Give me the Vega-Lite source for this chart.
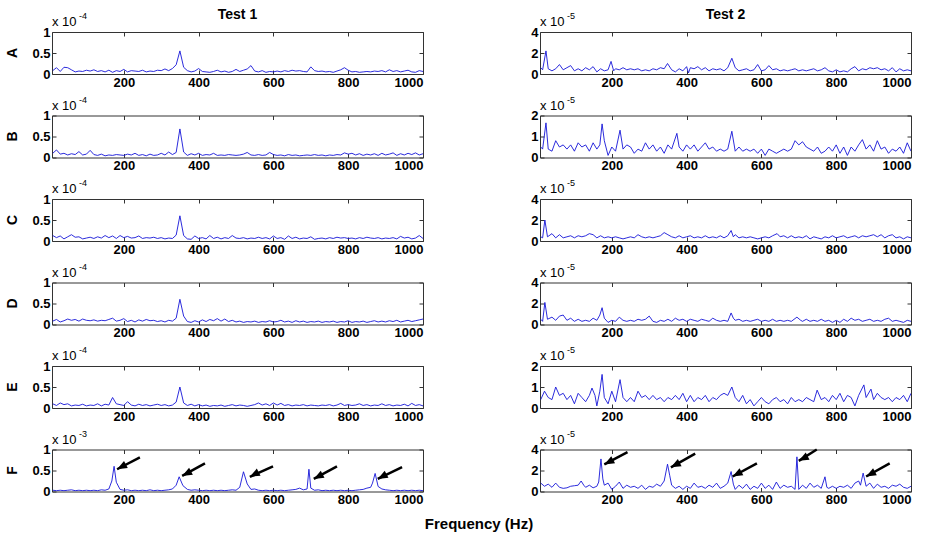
{
"$schema":"https://vega.github.io/schema/vega-lite/v6.json",
"background":"white",
"padding":{"left":6,"top":8,"right":5,"bottom":5},
"data":{"values":[
{"r":"A","c":1,"f":10,"v":0.08},{"r":"A","c":1,"f":20,"v":0.15},{"r":"A","c":1,"f":30,"v":0.06},{"r":"A","c":1,"f":40,"v":0.16},{"r":"A","c":1,"f":50,"v":0.15},{"r":"A","c":1,"f":60,"v":0.1},{"r":"A","c":1,"f":70,"v":0.05},{"r":"A","c":1,"f":80,"v":0.07},{"r":"A","c":1,"f":90,"v":0.06},{"r":"A","c":1,"f":100,"v":0.09},
{"r":"A","c":1,"f":110,"v":0.07},{"r":"A","c":1,"f":120,"v":0.1},{"r":"A","c":1,"f":130,"v":0.06},{"r":"A","c":1,"f":140,"v":0.08},{"r":"A","c":1,"f":150,"v":0.05},{"r":"A","c":1,"f":160,"v":0.09},{"r":"A","c":1,"f":170,"v":0.04},{"r":"A","c":1,"f":180,"v":0.08},{"r":"A","c":1,"f":190,"v":0.06},{"r":"A","c":1,"f":200,"v":0.11},
{"r":"A","c":1,"f":210,"v":0.05},{"r":"A","c":1,"f":220,"v":0.08},{"r":"A","c":1,"f":230,"v":0.07},{"r":"A","c":1,"f":240,"v":0.06},{"r":"A","c":1,"f":250,"v":0.09},{"r":"A","c":1,"f":260,"v":0.05},{"r":"A","c":1,"f":270,"v":0.07},{"r":"A","c":1,"f":280,"v":0.06},{"r":"A","c":1,"f":290,"v":0.09},{"r":"A","c":1,"f":300,"v":0.08},
{"r":"A","c":1,"f":310,"v":0.12},{"r":"A","c":1,"f":320,"v":0.08},{"r":"A","c":1,"f":330,"v":0.13},{"r":"A","c":1,"f":340,"v":0.22},{"r":"A","c":1,"f":350,"v":0.55},{"r":"A","c":1,"f":360,"v":0.16},{"r":"A","c":1,"f":370,"v":0.08},{"r":"A","c":1,"f":380,"v":0.05},{"r":"A","c":1,"f":390,"v":0.07},{"r":"A","c":1,"f":400,"v":0.13},
{"r":"A","c":1,"f":410,"v":0.06},{"r":"A","c":1,"f":420,"v":0.05},{"r":"A","c":1,"f":430,"v":0.04},{"r":"A","c":1,"f":440,"v":0.06},{"r":"A","c":1,"f":450,"v":0.09},{"r":"A","c":1,"f":460,"v":0.05},{"r":"A","c":1,"f":470,"v":0.07},{"r":"A","c":1,"f":480,"v":0.04},{"r":"A","c":1,"f":490,"v":0.06},{"r":"A","c":1,"f":500,"v":0.11},
{"r":"A","c":1,"f":510,"v":0.06},{"r":"A","c":1,"f":520,"v":0.09},{"r":"A","c":1,"f":530,"v":0.12},{"r":"A","c":1,"f":540,"v":0.2},{"r":"A","c":1,"f":550,"v":0.07},{"r":"A","c":1,"f":560,"v":0.05},{"r":"A","c":1,"f":570,"v":0.08},{"r":"A","c":1,"f":580,"v":0.04},{"r":"A","c":1,"f":590,"v":0.06},{"r":"A","c":1,"f":600,"v":0.05},
{"r":"A","c":1,"f":610,"v":0.07},{"r":"A","c":1,"f":620,"v":0.05},{"r":"A","c":1,"f":630,"v":0.08},{"r":"A","c":1,"f":640,"v":0.06},{"r":"A","c":1,"f":650,"v":0.09},{"r":"A","c":1,"f":660,"v":0.07},{"r":"A","c":1,"f":670,"v":0.08},{"r":"A","c":1,"f":680,"v":0.06},{"r":"A","c":1,"f":690,"v":0.05},{"r":"A","c":1,"f":700,"v":0.17},
{"r":"A","c":1,"f":710,"v":0.08},{"r":"A","c":1,"f":720,"v":0.06},{"r":"A","c":1,"f":730,"v":0.07},{"r":"A","c":1,"f":740,"v":0.05},{"r":"A","c":1,"f":750,"v":0.06},{"r":"A","c":1,"f":760,"v":0.04},{"r":"A","c":1,"f":770,"v":0.07},{"r":"A","c":1,"f":780,"v":0.1},{"r":"A","c":1,"f":790,"v":0.15},{"r":"A","c":1,"f":800,"v":0.09},
{"r":"A","c":1,"f":810,"v":0.05},{"r":"A","c":1,"f":820,"v":0.06},{"r":"A","c":1,"f":830,"v":0.04},{"r":"A","c":1,"f":840,"v":0.05},{"r":"A","c":1,"f":850,"v":0.06},{"r":"A","c":1,"f":860,"v":0.05},{"r":"A","c":1,"f":870,"v":0.07},{"r":"A","c":1,"f":880,"v":0.06},{"r":"A","c":1,"f":890,"v":0.08},{"r":"A","c":1,"f":900,"v":0.05},
{"r":"A","c":1,"f":910,"v":0.1},{"r":"A","c":1,"f":920,"v":0.06},{"r":"A","c":1,"f":930,"v":0.08},{"r":"A","c":1,"f":940,"v":0.05},{"r":"A","c":1,"f":950,"v":0.07},{"r":"A","c":1,"f":960,"v":0.09},{"r":"A","c":1,"f":970,"v":0.05},{"r":"A","c":1,"f":980,"v":0.04},{"r":"A","c":1,"f":990,"v":0.08},{"r":"A","c":1,"f":1000,"v":0.06},

{"r":"B","c":1,"f":10,"v":0.1},{"r":"B","c":1,"f":20,"v":0.18},{"r":"B","c":1,"f":30,"v":0.08},{"r":"B","c":1,"f":40,"v":0.1},{"r":"B","c":1,"f":50,"v":0.06},{"r":"B","c":1,"f":60,"v":0.09},{"r":"B","c":1,"f":70,"v":0.07},{"r":"B","c":1,"f":80,"v":0.14},{"r":"B","c":1,"f":90,"v":0.06},{"r":"B","c":1,"f":100,"v":0.08},
{"r":"B","c":1,"f":110,"v":0.17},{"r":"B","c":1,"f":120,"v":0.07},{"r":"B","c":1,"f":130,"v":0.05},{"r":"B","c":1,"f":140,"v":0.08},{"r":"B","c":1,"f":150,"v":0.04},{"r":"B","c":1,"f":160,"v":0.06},{"r":"B","c":1,"f":170,"v":0.05},{"r":"B","c":1,"f":180,"v":0.07},{"r":"B","c":1,"f":190,"v":0.06},{"r":"B","c":1,"f":200,"v":0.05},
{"r":"B","c":1,"f":210,"v":0.08},{"r":"B","c":1,"f":220,"v":0.06},{"r":"B","c":1,"f":230,"v":0.1},{"r":"B","c":1,"f":240,"v":0.05},{"r":"B","c":1,"f":250,"v":0.07},{"r":"B","c":1,"f":260,"v":0.04},{"r":"B","c":1,"f":270,"v":0.08},{"r":"B","c":1,"f":280,"v":0.05},{"r":"B","c":1,"f":290,"v":0.06},{"r":"B","c":1,"f":300,"v":0.1},
{"r":"B","c":1,"f":310,"v":0.06},{"r":"B","c":1,"f":320,"v":0.13},{"r":"B","c":1,"f":330,"v":0.07},{"r":"B","c":1,"f":340,"v":0.12},{"r":"B","c":1,"f":350,"v":0.68},{"r":"B","c":1,"f":360,"v":0.13},{"r":"B","c":1,"f":370,"v":0.05},{"r":"B","c":1,"f":380,"v":0.09},{"r":"B","c":1,"f":390,"v":0.06},{"r":"B","c":1,"f":400,"v":0.1},
{"r":"B","c":1,"f":410,"v":0.05},{"r":"B","c":1,"f":420,"v":0.07},{"r":"B","c":1,"f":430,"v":0.06},{"r":"B","c":1,"f":440,"v":0.1},{"r":"B","c":1,"f":450,"v":0.05},{"r":"B","c":1,"f":460,"v":0.06},{"r":"B","c":1,"f":470,"v":0.05},{"r":"B","c":1,"f":480,"v":0.07},{"r":"B","c":1,"f":490,"v":0.06},{"r":"B","c":1,"f":500,"v":0.05},
{"r":"B","c":1,"f":510,"v":0.06},{"r":"B","c":1,"f":520,"v":0.08},{"r":"B","c":1,"f":530,"v":0.12},{"r":"B","c":1,"f":540,"v":0.06},{"r":"B","c":1,"f":550,"v":0.05},{"r":"B","c":1,"f":560,"v":0.07},{"r":"B","c":1,"f":570,"v":0.05},{"r":"B","c":1,"f":580,"v":0.06},{"r":"B","c":1,"f":590,"v":0.12},{"r":"B","c":1,"f":600,"v":0.07},
{"r":"B","c":1,"f":610,"v":0.05},{"r":"B","c":1,"f":620,"v":0.06},{"r":"B","c":1,"f":630,"v":0.04},{"r":"B","c":1,"f":640,"v":0.07},{"r":"B","c":1,"f":650,"v":0.05},{"r":"B","c":1,"f":660,"v":0.06},{"r":"B","c":1,"f":670,"v":0.04},{"r":"B","c":1,"f":680,"v":0.05},{"r":"B","c":1,"f":690,"v":0.06},{"r":"B","c":1,"f":700,"v":0.05},
{"r":"B","c":1,"f":710,"v":0.07},{"r":"B","c":1,"f":720,"v":0.05},{"r":"B","c":1,"f":730,"v":0.06},{"r":"B","c":1,"f":740,"v":0.04},{"r":"B","c":1,"f":750,"v":0.06},{"r":"B","c":1,"f":760,"v":0.05},{"r":"B","c":1,"f":770,"v":0.07},{"r":"B","c":1,"f":780,"v":0.06},{"r":"B","c":1,"f":790,"v":0.11},{"r":"B","c":1,"f":800,"v":0.08},
{"r":"B","c":1,"f":810,"v":0.1},{"r":"B","c":1,"f":820,"v":0.06},{"r":"B","c":1,"f":830,"v":0.09},{"r":"B","c":1,"f":840,"v":0.05},{"r":"B","c":1,"f":850,"v":0.08},{"r":"B","c":1,"f":860,"v":0.06},{"r":"B","c":1,"f":870,"v":0.09},{"r":"B","c":1,"f":880,"v":0.05},{"r":"B","c":1,"f":890,"v":0.1},{"r":"B","c":1,"f":900,"v":0.06},
{"r":"B","c":1,"f":910,"v":0.08},{"r":"B","c":1,"f":920,"v":0.11},{"r":"B","c":1,"f":930,"v":0.05},{"r":"B","c":1,"f":940,"v":0.09},{"r":"B","c":1,"f":950,"v":0.06},{"r":"B","c":1,"f":960,"v":0.1},{"r":"B","c":1,"f":970,"v":0.07},{"r":"B","c":1,"f":980,"v":0.11},{"r":"B","c":1,"f":990,"v":0.06},{"r":"B","c":1,"f":1000,"v":0.09},

{"r":"C","c":1,"f":10,"v":0.13},{"r":"C","c":1,"f":20,"v":0.08},{"r":"C","c":1,"f":30,"v":0.12},{"r":"C","c":1,"f":40,"v":0.05},{"r":"C","c":1,"f":50,"v":0.1},{"r":"C","c":1,"f":60,"v":0.15},{"r":"C","c":1,"f":70,"v":0.09},{"r":"C","c":1,"f":80,"v":0.1},{"r":"C","c":1,"f":90,"v":0.05},{"r":"C","c":1,"f":100,"v":0.07},
{"r":"C","c":1,"f":110,"v":0.09},{"r":"C","c":1,"f":120,"v":0.06},{"r":"C","c":1,"f":130,"v":0.1},{"r":"C","c":1,"f":140,"v":0.07},{"r":"C","c":1,"f":150,"v":0.13},{"r":"C","c":1,"f":160,"v":0.08},{"r":"C","c":1,"f":170,"v":0.12},{"r":"C","c":1,"f":180,"v":0.06},{"r":"C","c":1,"f":190,"v":0.13},{"r":"C","c":1,"f":200,"v":0.08},
{"r":"C","c":1,"f":210,"v":0.11},{"r":"C","c":1,"f":220,"v":0.07},{"r":"C","c":1,"f":230,"v":0.08},{"r":"C","c":1,"f":240,"v":0.12},{"r":"C","c":1,"f":250,"v":0.06},{"r":"C","c":1,"f":260,"v":0.08},{"r":"C","c":1,"f":270,"v":0.07},{"r":"C","c":1,"f":280,"v":0.09},{"r":"C","c":1,"f":290,"v":0.06},{"r":"C","c":1,"f":300,"v":0.08},
{"r":"C","c":1,"f":310,"v":0.05},{"r":"C","c":1,"f":320,"v":0.07},{"r":"C","c":1,"f":330,"v":0.06},{"r":"C","c":1,"f":340,"v":0.14},{"r":"C","c":1,"f":350,"v":0.6},{"r":"C","c":1,"f":360,"v":0.13},{"r":"C","c":1,"f":370,"v":0.05},{"r":"C","c":1,"f":380,"v":0.04},{"r":"C","c":1,"f":390,"v":0.12},{"r":"C","c":1,"f":400,"v":0.06},
{"r":"C","c":1,"f":410,"v":0.08},{"r":"C","c":1,"f":420,"v":0.05},{"r":"C","c":1,"f":430,"v":0.13},{"r":"C","c":1,"f":440,"v":0.06},{"r":"C","c":1,"f":450,"v":0.09},{"r":"C","c":1,"f":460,"v":0.05},{"r":"C","c":1,"f":470,"v":0.08},{"r":"C","c":1,"f":480,"v":0.06},{"r":"C","c":1,"f":490,"v":0.13},{"r":"C","c":1,"f":500,"v":0.07},
{"r":"C","c":1,"f":510,"v":0.06},{"r":"C","c":1,"f":520,"v":0.08},{"r":"C","c":1,"f":530,"v":0.05},{"r":"C","c":1,"f":540,"v":0.07},{"r":"C","c":1,"f":550,"v":0.06},{"r":"C","c":1,"f":560,"v":0.09},{"r":"C","c":1,"f":570,"v":0.06},{"r":"C","c":1,"f":580,"v":0.08},{"r":"C","c":1,"f":590,"v":0.05},{"r":"C","c":1,"f":600,"v":0.12},
{"r":"C","c":1,"f":610,"v":0.06},{"r":"C","c":1,"f":620,"v":0.08},{"r":"C","c":1,"f":630,"v":0.04},{"r":"C","c":1,"f":640,"v":0.12},{"r":"C","c":1,"f":650,"v":0.06},{"r":"C","c":1,"f":660,"v":0.09},{"r":"C","c":1,"f":670,"v":0.05},{"r":"C","c":1,"f":680,"v":0.07},{"r":"C","c":1,"f":690,"v":0.06},{"r":"C","c":1,"f":700,"v":0.1},
{"r":"C","c":1,"f":710,"v":0.04},{"r":"C","c":1,"f":720,"v":0.06},{"r":"C","c":1,"f":730,"v":0.07},{"r":"C","c":1,"f":740,"v":0.05},{"r":"C","c":1,"f":750,"v":0.08},{"r":"C","c":1,"f":760,"v":0.06},{"r":"C","c":1,"f":770,"v":0.09},{"r":"C","c":1,"f":780,"v":0.07},{"r":"C","c":1,"f":790,"v":0.08},{"r":"C","c":1,"f":800,"v":0.06},
{"r":"C","c":1,"f":810,"v":0.07},{"r":"C","c":1,"f":820,"v":0.05},{"r":"C","c":1,"f":830,"v":0.08},{"r":"C","c":1,"f":840,"v":0.06},{"r":"C","c":1,"f":850,"v":0.09},{"r":"C","c":1,"f":860,"v":0.07},{"r":"C","c":1,"f":870,"v":0.06},{"r":"C","c":1,"f":880,"v":0.08},{"r":"C","c":1,"f":890,"v":0.05},{"r":"C","c":1,"f":900,"v":0.07},
{"r":"C","c":1,"f":910,"v":0.06},{"r":"C","c":1,"f":920,"v":0.08},{"r":"C","c":1,"f":930,"v":0.05},{"r":"C","c":1,"f":940,"v":0.11},{"r":"C","c":1,"f":950,"v":0.07},{"r":"C","c":1,"f":960,"v":0.09},{"r":"C","c":1,"f":970,"v":0.05},{"r":"C","c":1,"f":980,"v":0.07},{"r":"C","c":1,"f":990,"v":0.13},{"r":"C","c":1,"f":1000,"v":0.06},

{"r":"D","c":1,"f":10,"v":0.08},{"r":"D","c":1,"f":20,"v":0.12},{"r":"D","c":1,"f":30,"v":0.06},{"r":"D","c":1,"f":40,"v":0.09},{"r":"D","c":1,"f":50,"v":0.13},{"r":"D","c":1,"f":60,"v":0.1},{"r":"D","c":1,"f":70,"v":0.12},{"r":"D","c":1,"f":80,"v":0.08},{"r":"D","c":1,"f":90,"v":0.13},{"r":"D","c":1,"f":100,"v":0.1},
{"r":"D","c":1,"f":110,"v":0.09},{"r":"D","c":1,"f":120,"v":0.11},{"r":"D","c":1,"f":130,"v":0.08},{"r":"D","c":1,"f":140,"v":0.1},{"r":"D","c":1,"f":150,"v":0.09},{"r":"D","c":1,"f":160,"v":0.12},{"r":"D","c":1,"f":170,"v":0.15},{"r":"D","c":1,"f":180,"v":0.08},{"r":"D","c":1,"f":190,"v":0.1},{"r":"D","c":1,"f":200,"v":0.14},
{"r":"D","c":1,"f":210,"v":0.07},{"r":"D","c":1,"f":220,"v":0.1},{"r":"D","c":1,"f":230,"v":0.06},{"r":"D","c":1,"f":240,"v":0.11},{"r":"D","c":1,"f":250,"v":0.08},{"r":"D","c":1,"f":260,"v":0.12},{"r":"D","c":1,"f":270,"v":0.09},{"r":"D","c":1,"f":280,"v":0.1},{"r":"D","c":1,"f":290,"v":0.07},{"r":"D","c":1,"f":300,"v":0.09},
{"r":"D","c":1,"f":310,"v":0.06},{"r":"D","c":1,"f":320,"v":0.1},{"r":"D","c":1,"f":330,"v":0.08},{"r":"D","c":1,"f":340,"v":0.15},{"r":"D","c":1,"f":350,"v":0.6},{"r":"D","c":1,"f":360,"v":0.2},{"r":"D","c":1,"f":370,"v":0.07},{"r":"D","c":1,"f":380,"v":0.05},{"r":"D","c":1,"f":390,"v":0.09},{"r":"D","c":1,"f":400,"v":0.06},
{"r":"D","c":1,"f":410,"v":0.11},{"r":"D","c":1,"f":420,"v":0.07},{"r":"D","c":1,"f":430,"v":0.12},{"r":"D","c":1,"f":440,"v":0.09},{"r":"D","c":1,"f":450,"v":0.14},{"r":"D","c":1,"f":460,"v":0.08},{"r":"D","c":1,"f":470,"v":0.13},{"r":"D","c":1,"f":480,"v":0.07},{"r":"D","c":1,"f":490,"v":0.1},{"r":"D","c":1,"f":500,"v":0.06},
{"r":"D","c":1,"f":510,"v":0.08},{"r":"D","c":1,"f":520,"v":0.05},{"r":"D","c":1,"f":530,"v":0.07},{"r":"D","c":1,"f":540,"v":0.06},{"r":"D","c":1,"f":550,"v":0.08},{"r":"D","c":1,"f":560,"v":0.05},{"r":"D","c":1,"f":570,"v":0.07},{"r":"D","c":1,"f":580,"v":0.06},{"r":"D","c":1,"f":590,"v":0.09},{"r":"D","c":1,"f":600,"v":0.06},
{"r":"D","c":1,"f":610,"v":0.07},{"r":"D","c":1,"f":620,"v":0.1},{"r":"D","c":1,"f":630,"v":0.06},{"r":"D","c":1,"f":640,"v":0.08},{"r":"D","c":1,"f":650,"v":0.05},{"r":"D","c":1,"f":660,"v":0.09},{"r":"D","c":1,"f":670,"v":0.06},{"r":"D","c":1,"f":680,"v":0.08},{"r":"D","c":1,"f":690,"v":0.05},{"r":"D","c":1,"f":700,"v":0.07},
{"r":"D","c":1,"f":710,"v":0.06},{"r":"D","c":1,"f":720,"v":0.08},{"r":"D","c":1,"f":730,"v":0.05},{"r":"D","c":1,"f":740,"v":0.07},{"r":"D","c":1,"f":750,"v":0.06},{"r":"D","c":1,"f":760,"v":0.08},{"r":"D","c":1,"f":770,"v":0.05},{"r":"D","c":1,"f":780,"v":0.07},{"r":"D","c":1,"f":790,"v":0.06},{"r":"D","c":1,"f":800,"v":0.09},
{"r":"D","c":1,"f":810,"v":0.05},{"r":"D","c":1,"f":820,"v":0.07},{"r":"D","c":1,"f":830,"v":0.06},{"r":"D","c":1,"f":840,"v":0.08},{"r":"D","c":1,"f":850,"v":0.05},{"r":"D","c":1,"f":860,"v":0.07},{"r":"D","c":1,"f":870,"v":0.09},{"r":"D","c":1,"f":880,"v":0.06},{"r":"D","c":1,"f":890,"v":0.08},{"r":"D","c":1,"f":900,"v":0.06},
{"r":"D","c":1,"f":910,"v":0.09},{"r":"D","c":1,"f":920,"v":0.07},{"r":"D","c":1,"f":930,"v":0.1},{"r":"D","c":1,"f":940,"v":0.06},{"r":"D","c":1,"f":950,"v":0.08},{"r":"D","c":1,"f":960,"v":0.1},{"r":"D","c":1,"f":970,"v":0.07},{"r":"D","c":1,"f":980,"v":0.09},{"r":"D","c":1,"f":990,"v":0.11},{"r":"D","c":1,"f":1000,"v":0.13},

{"r":"E","c":1,"f":10,"v":0.1},{"r":"E","c":1,"f":20,"v":0.06},{"r":"E","c":1,"f":30,"v":0.12},{"r":"E","c":1,"f":40,"v":0.08},{"r":"E","c":1,"f":50,"v":0.1},{"r":"E","c":1,"f":60,"v":0.05},{"r":"E","c":1,"f":70,"v":0.07},{"r":"E","c":1,"f":80,"v":0.06},{"r":"E","c":1,"f":90,"v":0.09},{"r":"E","c":1,"f":100,"v":0.05},
{"r":"E","c":1,"f":110,"v":0.07},{"r":"E","c":1,"f":120,"v":0.06},{"r":"E","c":1,"f":130,"v":0.1},{"r":"E","c":1,"f":140,"v":0.05},{"r":"E","c":1,"f":150,"v":0.09},{"r":"E","c":1,"f":160,"v":0.07},{"r":"E","c":1,"f":170,"v":0.25},{"r":"E","c":1,"f":180,"v":0.1},{"r":"E","c":1,"f":190,"v":0.08},{"r":"E","c":1,"f":200,"v":0.06},
{"r":"E","c":1,"f":210,"v":0.15},{"r":"E","c":1,"f":220,"v":0.07},{"r":"E","c":1,"f":230,"v":0.05},{"r":"E","c":1,"f":240,"v":0.09},{"r":"E","c":1,"f":250,"v":0.06},{"r":"E","c":1,"f":260,"v":0.08},{"r":"E","c":1,"f":270,"v":0.05},{"r":"E","c":1,"f":280,"v":0.07},{"r":"E","c":1,"f":290,"v":0.09},{"r":"E","c":1,"f":300,"v":0.06},
{"r":"E","c":1,"f":310,"v":0.08},{"r":"E","c":1,"f":320,"v":0.05},{"r":"E","c":1,"f":330,"v":0.07},{"r":"E","c":1,"f":340,"v":0.14},{"r":"E","c":1,"f":350,"v":0.5},{"r":"E","c":1,"f":360,"v":0.12},{"r":"E","c":1,"f":370,"v":0.06},{"r":"E","c":1,"f":380,"v":0.09},{"r":"E","c":1,"f":390,"v":0.05},{"r":"E","c":1,"f":400,"v":0.08},
{"r":"E","c":1,"f":410,"v":0.05},{"r":"E","c":1,"f":420,"v":0.07},{"r":"E","c":1,"f":430,"v":0.04},{"r":"E","c":1,"f":440,"v":0.06},{"r":"E","c":1,"f":450,"v":0.05},{"r":"E","c":1,"f":460,"v":0.07},{"r":"E","c":1,"f":470,"v":0.04},{"r":"E","c":1,"f":480,"v":0.06},{"r":"E","c":1,"f":490,"v":0.08},{"r":"E","c":1,"f":500,"v":0.05},
{"r":"E","c":1,"f":510,"v":0.07},{"r":"E","c":1,"f":520,"v":0.06},{"r":"E","c":1,"f":530,"v":0.04},{"r":"E","c":1,"f":540,"v":0.06},{"r":"E","c":1,"f":550,"v":0.08},{"r":"E","c":1,"f":560,"v":0.12},{"r":"E","c":1,"f":570,"v":0.07},{"r":"E","c":1,"f":580,"v":0.1},{"r":"E","c":1,"f":590,"v":0.06},{"r":"E","c":1,"f":600,"v":0.12},
{"r":"E","c":1,"f":610,"v":0.07},{"r":"E","c":1,"f":620,"v":0.11},{"r":"E","c":1,"f":630,"v":0.06},{"r":"E","c":1,"f":640,"v":0.08},{"r":"E","c":1,"f":650,"v":0.05},{"r":"E","c":1,"f":660,"v":0.07},{"r":"E","c":1,"f":670,"v":0.06},{"r":"E","c":1,"f":680,"v":0.08},{"r":"E","c":1,"f":690,"v":0.05},{"r":"E","c":1,"f":700,"v":0.07},
{"r":"E","c":1,"f":710,"v":0.06},{"r":"E","c":1,"f":720,"v":0.05},{"r":"E","c":1,"f":730,"v":0.07},{"r":"E","c":1,"f":740,"v":0.06},{"r":"E","c":1,"f":750,"v":0.08},{"r":"E","c":1,"f":760,"v":0.05},{"r":"E","c":1,"f":770,"v":0.07},{"r":"E","c":1,"f":780,"v":0.11},{"r":"E","c":1,"f":790,"v":0.06},{"r":"E","c":1,"f":800,"v":0.08},
{"r":"E","c":1,"f":810,"v":0.06},{"r":"E","c":1,"f":820,"v":0.07},{"r":"E","c":1,"f":830,"v":0.1},{"r":"E","c":1,"f":840,"v":0.06},{"r":"E","c":1,"f":850,"v":0.08},{"r":"E","c":1,"f":860,"v":0.05},{"r":"E","c":1,"f":870,"v":0.07},{"r":"E","c":1,"f":880,"v":0.06},{"r":"E","c":1,"f":890,"v":0.1},{"r":"E","c":1,"f":900,"v":0.06},
{"r":"E","c":1,"f":910,"v":0.08},{"r":"E","c":1,"f":920,"v":0.05},{"r":"E","c":1,"f":930,"v":0.07},{"r":"E","c":1,"f":940,"v":0.06},{"r":"E","c":1,"f":950,"v":0.09},{"r":"E","c":1,"f":960,"v":0.05},{"r":"E","c":1,"f":970,"v":0.11},{"r":"E","c":1,"f":980,"v":0.06},{"r":"E","c":1,"f":990,"v":0.08},{"r":"E","c":1,"f":1000,"v":0.05},

{"r":"F","c":1,"f":10,"v":0.03},{"r":"F","c":1,"f":20,"v":0.02},{"r":"F","c":1,"f":30,"v":0.03},{"r":"F","c":1,"f":40,"v":0.02},{"r":"F","c":1,"f":50,"v":0.03},{"r":"F","c":1,"f":60,"v":0.04},{"r":"F","c":1,"f":70,"v":0.02},{"r":"F","c":1,"f":80,"v":0.03},{"r":"F","c":1,"f":90,"v":0.02},{"r":"F","c":1,"f":100,"v":0.03},
{"r":"F","c":1,"f":110,"v":0.02},{"r":"F","c":1,"f":120,"v":0.03},{"r":"F","c":1,"f":130,"v":0.02},{"r":"F","c":1,"f":140,"v":0.04},{"r":"F","c":1,"f":150,"v":0.03},{"r":"F","c":1,"f":160,"v":0.06},{"r":"F","c":1,"f":168,"v":0.25},{"r":"F","c":1,"f":174,"v":0.6},{"r":"F","c":1,"f":180,"v":0.22},{"r":"F","c":1,"f":190,"v":0.05},
{"r":"F","c":1,"f":200,"v":0.03},{"r":"F","c":1,"f":210,"v":0.04},{"r":"F","c":1,"f":220,"v":0.02},{"r":"F","c":1,"f":230,"v":0.03},{"r":"F","c":1,"f":240,"v":0.02},{"r":"F","c":1,"f":250,"v":0.03},{"r":"F","c":1,"f":260,"v":0.02},{"r":"F","c":1,"f":270,"v":0.04},{"r":"F","c":1,"f":280,"v":0.02},{"r":"F","c":1,"f":290,"v":0.03},
{"r":"F","c":1,"f":300,"v":0.02},{"r":"F","c":1,"f":310,"v":0.03},{"r":"F","c":1,"f":320,"v":0.04},{"r":"F","c":1,"f":330,"v":0.06},{"r":"F","c":1,"f":340,"v":0.15},{"r":"F","c":1,"f":348,"v":0.35},{"r":"F","c":1,"f":358,"v":0.14},{"r":"F","c":1,"f":370,"v":0.05},{"r":"F","c":1,"f":380,"v":0.03},{"r":"F","c":1,"f":390,"v":0.04},
{"r":"F","c":1,"f":400,"v":0.03},{"r":"F","c":1,"f":410,"v":0.02},{"r":"F","c":1,"f":420,"v":0.03},{"r":"F","c":1,"f":430,"v":0.02},{"r":"F","c":1,"f":440,"v":0.03},{"r":"F","c":1,"f":450,"v":0.02},{"r":"F","c":1,"f":460,"v":0.03},{"r":"F","c":1,"f":470,"v":0.02},{"r":"F","c":1,"f":480,"v":0.03},{"r":"F","c":1,"f":490,"v":0.04},
{"r":"F","c":1,"f":500,"v":0.03},{"r":"F","c":1,"f":510,"v":0.1},{"r":"F","c":1,"f":520,"v":0.47},{"r":"F","c":1,"f":530,"v":0.18},{"r":"F","c":1,"f":540,"v":0.05},{"r":"F","c":1,"f":550,"v":0.06},{"r":"F","c":1,"f":560,"v":0.03},{"r":"F","c":1,"f":570,"v":0.02},{"r":"F","c":1,"f":580,"v":0.03},{"r":"F","c":1,"f":590,"v":0.02},
{"r":"F","c":1,"f":600,"v":0.03},{"r":"F","c":1,"f":610,"v":0.02},{"r":"F","c":1,"f":620,"v":0.03},{"r":"F","c":1,"f":630,"v":0.02},{"r":"F","c":1,"f":640,"v":0.03},{"r":"F","c":1,"f":650,"v":0.04},{"r":"F","c":1,"f":660,"v":0.05},{"r":"F","c":1,"f":670,"v":0.08},{"r":"F","c":1,"f":680,"v":0.04},{"r":"F","c":1,"f":690,"v":0.06},
{"r":"F","c":1,"f":695,"v":0.53},{"r":"F","c":1,"f":700,"v":0.08},{"r":"F","c":1,"f":710,"v":0.03},{"r":"F","c":1,"f":720,"v":0.04},{"r":"F","c":1,"f":730,"v":0.02},{"r":"F","c":1,"f":740,"v":0.03},{"r":"F","c":1,"f":750,"v":0.02},{"r":"F","c":1,"f":760,"v":0.03},{"r":"F","c":1,"f":770,"v":0.02},{"r":"F","c":1,"f":780,"v":0.03},
{"r":"F","c":1,"f":790,"v":0.02},{"r":"F","c":1,"f":800,"v":0.03},{"r":"F","c":1,"f":810,"v":0.02},{"r":"F","c":1,"f":820,"v":0.03},{"r":"F","c":1,"f":830,"v":0.04},{"r":"F","c":1,"f":840,"v":0.05},{"r":"F","c":1,"f":850,"v":0.08},{"r":"F","c":1,"f":860,"v":0.1},{"r":"F","c":1,"f":865,"v":0.2},{"r":"F","c":1,"f":872,"v":0.43},{"r":"F","c":1,"f":880,"v":0.12},{"r":"F","c":1,"f":890,"v":0.06},
{"r":"F","c":1,"f":900,"v":0.04},{"r":"F","c":1,"f":910,"v":0.03},{"r":"F","c":1,"f":920,"v":0.02},{"r":"F","c":1,"f":930,"v":0.03},{"r":"F","c":1,"f":940,"v":0.02},{"r":"F","c":1,"f":950,"v":0.03},{"r":"F","c":1,"f":960,"v":0.02},{"r":"F","c":1,"f":970,"v":0.03},{"r":"F","c":1,"f":980,"v":0.02},{"r":"F","c":1,"f":990,"v":0.03},{"r":"F","c":1,"f":1000,"v":0.02},

{"r":"A","c":2,"f":10,"v":0.6},{"r":"A","c":2,"f":15,"v":0.4},{"r":"A","c":2,"f":24,"v":2.2},{"r":"A","c":2,"f":30,"v":0.5},{"r":"A","c":2,"f":40,"v":0.3},{"r":"A","c":2,"f":50,"v":0.5},{"r":"A","c":2,"f":60,"v":0.9},{"r":"A","c":2,"f":70,"v":0.4},{"r":"A","c":2,"f":80,"v":0.6},{"r":"A","c":2,"f":90,"v":0.8},{"r":"A","c":2,"f":100,"v":0.3},
{"r":"A","c":2,"f":110,"v":0.5},{"r":"A","c":2,"f":120,"v":0.3},{"r":"A","c":2,"f":130,"v":0.6},{"r":"A","c":2,"f":140,"v":0.4},{"r":"A","c":2,"f":150,"v":0.7},{"r":"A","c":2,"f":160,"v":0.2},{"r":"A","c":2,"f":170,"v":0.5},{"r":"A","c":2,"f":180,"v":0.3},{"r":"A","c":2,"f":190,"v":0.4},{"r":"A","c":2,"f":198,"v":1.2},{"r":"A","c":2,"f":205,"v":0.3},
{"r":"A","c":2,"f":210,"v":0.5},{"r":"A","c":2,"f":220,"v":0.4},{"r":"A","c":2,"f":230,"v":0.6},{"r":"A","c":2,"f":240,"v":0.4},{"r":"A","c":2,"f":250,"v":0.5},{"r":"A","c":2,"f":260,"v":0.4},{"r":"A","c":2,"f":270,"v":0.5},{"r":"A","c":2,"f":280,"v":0.3},{"r":"A","c":2,"f":290,"v":0.4},{"r":"A","c":2,"f":300,"v":0.3},
{"r":"A","c":2,"f":310,"v":0.5},{"r":"A","c":2,"f":320,"v":0.4},{"r":"A","c":2,"f":330,"v":0.6},{"r":"A","c":2,"f":340,"v":0.5},{"r":"A","c":2,"f":349,"v":1.0},{"r":"A","c":2,"f":360,"v":0.4},{"r":"A","c":2,"f":370,"v":0.2},{"r":"A","c":2,"f":380,"v":0.5},{"r":"A","c":2,"f":390,"v":0.3},{"r":"A","c":2,"f":400,"v":0.7},
{"r":"A","c":2,"f":405,"v":0.1},{"r":"A","c":2,"f":410,"v":0.6},{"r":"A","c":2,"f":420,"v":0.5},{"r":"A","c":2,"f":430,"v":0.7},{"r":"A","c":2,"f":440,"v":0.4},{"r":"A","c":2,"f":450,"v":0.6},{"r":"A","c":2,"f":460,"v":0.3},{"r":"A","c":2,"f":470,"v":0.5},{"r":"A","c":2,"f":480,"v":0.4},{"r":"A","c":2,"f":490,"v":0.5},{"r":"A","c":2,"f":500,"v":0.3},
{"r":"A","c":2,"f":510,"v":0.6},{"r":"A","c":2,"f":521,"v":1.5},{"r":"A","c":2,"f":530,"v":0.6},{"r":"A","c":2,"f":540,"v":0.3},{"r":"A","c":2,"f":550,"v":0.4},{"r":"A","c":2,"f":560,"v":0.5},{"r":"A","c":2,"f":570,"v":0.3},{"r":"A","c":2,"f":580,"v":0.4},{"r":"A","c":2,"f":590,"v":0.9},{"r":"A","c":2,"f":600,"v":0.3},
{"r":"A","c":2,"f":610,"v":0.4},{"r":"A","c":2,"f":620,"v":0.8},{"r":"A","c":2,"f":630,"v":0.4},{"r":"A","c":2,"f":640,"v":0.5},{"r":"A","c":2,"f":650,"v":0.3},{"r":"A","c":2,"f":660,"v":0.4},{"r":"A","c":2,"f":670,"v":0.3},{"r":"A","c":2,"f":680,"v":0.4},{"r":"A","c":2,"f":690,"v":0.5},{"r":"A","c":2,"f":700,"v":0.3},
{"r":"A","c":2,"f":710,"v":0.4},{"r":"A","c":2,"f":720,"v":0.3},{"r":"A","c":2,"f":730,"v":0.4},{"r":"A","c":2,"f":740,"v":0.5},{"r":"A","c":2,"f":750,"v":0.3},{"r":"A","c":2,"f":760,"v":0.4},{"r":"A","c":2,"f":770,"v":0.6},{"r":"A","c":2,"f":780,"v":0.3},{"r":"A","c":2,"f":790,"v":0.2},{"r":"A","c":2,"f":800,"v":0.4},
{"r":"A","c":2,"f":810,"v":0.2},{"r":"A","c":2,"f":820,"v":0.3},{"r":"A","c":2,"f":830,"v":0.2},{"r":"A","c":2,"f":840,"v":0.5},{"r":"A","c":2,"f":850,"v":0.7},{"r":"A","c":2,"f":860,"v":0.3},{"r":"A","c":2,"f":870,"v":0.5},{"r":"A","c":2,"f":880,"v":0.4},{"r":"A","c":2,"f":890,"v":0.6},{"r":"A","c":2,"f":900,"v":0.5},
{"r":"A","c":2,"f":910,"v":0.6},{"r":"A","c":2,"f":920,"v":0.4},{"r":"A","c":2,"f":930,"v":0.5},{"r":"A","c":2,"f":940,"v":0.3},{"r":"A","c":2,"f":950,"v":0.6},{"r":"A","c":2,"f":960,"v":0.2},{"r":"A","c":2,"f":970,"v":0.5},{"r":"A","c":2,"f":980,"v":0.3},{"r":"A","c":2,"f":990,"v":0.4},{"r":"A","c":2,"f":1000,"v":0.3},

{"r":"B","c":2,"f":10,"v":0.5},{"r":"B","c":2,"f":15,"v":0.4},{"r":"B","c":2,"f":24,"v":1.65},{"r":"B","c":2,"f":30,"v":0.4},{"r":"B","c":2,"f":40,"v":0.3},{"r":"B","c":2,"f":50,"v":0.8},{"r":"B","c":2,"f":60,"v":0.5},{"r":"B","c":2,"f":70,"v":0.6},{"r":"B","c":2,"f":80,"v":0.4},{"r":"B","c":2,"f":90,"v":0.6},{"r":"B","c":2,"f":100,"v":0.3},
{"r":"B","c":2,"f":110,"v":0.7},{"r":"B","c":2,"f":120,"v":0.5},{"r":"B","c":2,"f":130,"v":0.6},{"r":"B","c":2,"f":140,"v":0.3},{"r":"B","c":2,"f":150,"v":0.7},{"r":"B","c":2,"f":160,"v":0.4},{"r":"B","c":2,"f":168,"v":0.6},{"r":"B","c":2,"f":174,"v":1.6},{"r":"B","c":2,"f":180,"v":0.8},{"r":"B","c":2,"f":190,"v":0.1},{"r":"B","c":2,"f":200,"v":0.5},
{"r":"B","c":2,"f":210,"v":0.3},{"r":"B","c":2,"f":222,"v":1.3},{"r":"B","c":2,"f":230,"v":0.4},{"r":"B","c":2,"f":240,"v":0.6},{"r":"B","c":2,"f":250,"v":0.5},{"r":"B","c":2,"f":260,"v":0.2},{"r":"B","c":2,"f":270,"v":0.4},{"r":"B","c":2,"f":280,"v":0.3},{"r":"B","c":2,"f":290,"v":0.7},{"r":"B","c":2,"f":300,"v":0.4},
{"r":"B","c":2,"f":310,"v":0.6},{"r":"B","c":2,"f":320,"v":0.3},{"r":"B","c":2,"f":330,"v":0.5},{"r":"B","c":2,"f":340,"v":0.2},{"r":"B","c":2,"f":350,"v":0.6},{"r":"B","c":2,"f":360,"v":0.4},{"r":"B","c":2,"f":374,"v":1.15},{"r":"B","c":2,"f":380,"v":0.5},{"r":"B","c":2,"f":390,"v":0.3},{"r":"B","c":2,"f":400,"v":0.6},
{"r":"B","c":2,"f":410,"v":0.4},{"r":"B","c":2,"f":420,"v":0.6},{"r":"B","c":2,"f":430,"v":0.3},{"r":"B","c":2,"f":440,"v":0.5},{"r":"B","c":2,"f":450,"v":0.7},{"r":"B","c":2,"f":460,"v":0.4},{"r":"B","c":2,"f":470,"v":0.5},{"r":"B","c":2,"f":480,"v":0.3},{"r":"B","c":2,"f":490,"v":0.4},{"r":"B","c":2,"f":500,"v":0.3},
{"r":"B","c":2,"f":510,"v":0.4},{"r":"B","c":2,"f":521,"v":1.25},{"r":"B","c":2,"f":530,"v":0.3},{"r":"B","c":2,"f":540,"v":0.5},{"r":"B","c":2,"f":550,"v":0.3},{"r":"B","c":2,"f":560,"v":0.4},{"r":"B","c":2,"f":570,"v":0.3},{"r":"B","c":2,"f":580,"v":0.4},{"r":"B","c":2,"f":590,"v":0.2},{"r":"B","c":2,"f":600,"v":0.4},
{"r":"B","c":2,"f":610,"v":0.1},{"r":"B","c":2,"f":620,"v":0.4},{"r":"B","c":2,"f":630,"v":0.3},{"r":"B","c":2,"f":640,"v":0.2},{"r":"B","c":2,"f":650,"v":0.3},{"r":"B","c":2,"f":660,"v":0.4},{"r":"B","c":2,"f":670,"v":0.3},{"r":"B","c":2,"f":680,"v":0.4},{"r":"B","c":2,"f":690,"v":0.8},{"r":"B","c":2,"f":700,"v":0.6},
{"r":"B","c":2,"f":710,"v":0.75},{"r":"B","c":2,"f":720,"v":0.5},{"r":"B","c":2,"f":730,"v":0.4},{"r":"B","c":2,"f":740,"v":0.3},{"r":"B","c":2,"f":750,"v":0.5},{"r":"B","c":2,"f":760,"v":0.2},{"r":"B","c":2,"f":770,"v":0.3},{"r":"B","c":2,"f":780,"v":0.5},{"r":"B","c":2,"f":790,"v":0.3},{"r":"B","c":2,"f":800,"v":0.6},
{"r":"B","c":2,"f":810,"v":0.2},{"r":"B","c":2,"f":820,"v":0.5},{"r":"B","c":2,"f":830,"v":0.1},{"r":"B","c":2,"f":840,"v":0.5},{"r":"B","c":2,"f":850,"v":0.3},{"r":"B","c":2,"f":860,"v":0.6},{"r":"B","c":2,"f":870,"v":0.85},{"r":"B","c":2,"f":880,"v":0.4},{"r":"B","c":2,"f":890,"v":0.6},{"r":"B","c":2,"f":900,"v":0.3},
{"r":"B","c":2,"f":910,"v":0.8},{"r":"B","c":2,"f":920,"v":0.4},{"r":"B","c":2,"f":930,"v":0.5},{"r":"B","c":2,"f":940,"v":0.2},{"r":"B","c":2,"f":950,"v":0.4},{"r":"B","c":2,"f":960,"v":0.3},{"r":"B","c":2,"f":970,"v":0.5},{"r":"B","c":2,"f":980,"v":0.2},{"r":"B","c":2,"f":990,"v":0.7},{"r":"B","c":2,"f":1000,"v":0.3},

{"r":"C","c":2,"f":10,"v":0.4},{"r":"C","c":2,"f":15,"v":0.3},{"r":"C","c":2,"f":21,"v":2.0},{"r":"C","c":2,"f":28,"v":0.4},{"r":"C","c":2,"f":40,"v":0.7},{"r":"C","c":2,"f":50,"v":0.3},{"r":"C","c":2,"f":60,"v":0.6},{"r":"C","c":2,"f":70,"v":0.3},{"r":"C","c":2,"f":80,"v":0.4},{"r":"C","c":2,"f":90,"v":0.5},{"r":"C","c":2,"f":100,"v":0.3},
{"r":"C","c":2,"f":110,"v":0.5},{"r":"C","c":2,"f":120,"v":0.4},{"r":"C","c":2,"f":130,"v":0.5},{"r":"C","c":2,"f":140,"v":0.7},{"r":"C","c":2,"f":150,"v":0.6},{"r":"C","c":2,"f":160,"v":0.3},{"r":"C","c":2,"f":170,"v":0.5},{"r":"C","c":2,"f":180,"v":0.3},{"r":"C","c":2,"f":190,"v":0.4},{"r":"C","c":2,"f":200,"v":0.3},
{"r":"C","c":2,"f":210,"v":0.4},{"r":"C","c":2,"f":220,"v":0.3},{"r":"C","c":2,"f":230,"v":0.2},{"r":"C","c":2,"f":240,"v":0.3},{"r":"C","c":2,"f":250,"v":0.4},{"r":"C","c":2,"f":260,"v":0.3},{"r":"C","c":2,"f":270,"v":0.6},{"r":"C","c":2,"f":280,"v":0.4},{"r":"C","c":2,"f":290,"v":0.3},{"r":"C","c":2,"f":300,"v":0.4},
{"r":"C","c":2,"f":310,"v":0.3},{"r":"C","c":2,"f":320,"v":0.4},{"r":"C","c":2,"f":330,"v":0.5},{"r":"C","c":2,"f":340,"v":0.8},{"r":"C","c":2,"f":350,"v":0.6},{"r":"C","c":2,"f":360,"v":0.4},{"r":"C","c":2,"f":370,"v":0.3},{"r":"C","c":2,"f":380,"v":0.5},{"r":"C","c":2,"f":390,"v":0.3},{"r":"C","c":2,"f":400,"v":0.4},
{"r":"C","c":2,"f":410,"v":0.5},{"r":"C","c":2,"f":420,"v":0.3},{"r":"C","c":2,"f":430,"v":0.4},{"r":"C","c":2,"f":440,"v":0.3},{"r":"C","c":2,"f":450,"v":0.5},{"r":"C","c":2,"f":460,"v":0.3},{"r":"C","c":2,"f":470,"v":0.4},{"r":"C","c":2,"f":480,"v":0.3},{"r":"C","c":2,"f":490,"v":0.5},{"r":"C","c":2,"f":500,"v":0.3},
{"r":"C","c":2,"f":510,"v":0.5},{"r":"C","c":2,"f":519,"v":1.0},{"r":"C","c":2,"f":525,"v":0.4},{"r":"C","c":2,"f":530,"v":0.6},{"r":"C","c":2,"f":540,"v":0.3},{"r":"C","c":2,"f":550,"v":0.4},{"r":"C","c":2,"f":560,"v":0.3},{"r":"C","c":2,"f":570,"v":0.4},{"r":"C","c":2,"f":580,"v":0.3},{"r":"C","c":2,"f":590,"v":0.2},
{"r":"C","c":2,"f":600,"v":0.3},{"r":"C","c":2,"f":610,"v":0.4},{"r":"C","c":2,"f":620,"v":0.3},{"r":"C","c":2,"f":630,"v":0.5},{"r":"C","c":2,"f":642,"v":0.7},{"r":"C","c":2,"f":650,"v":0.4},{"r":"C","c":2,"f":660,"v":0.5},{"r":"C","c":2,"f":670,"v":0.3},{"r":"C","c":2,"f":680,"v":0.5},{"r":"C","c":2,"f":690,"v":0.3},
{"r":"C","c":2,"f":700,"v":0.4},{"r":"C","c":2,"f":710,"v":0.3},{"r":"C","c":2,"f":720,"v":0.5},{"r":"C","c":2,"f":730,"v":0.2},{"r":"C","c":2,"f":740,"v":0.4},{"r":"C","c":2,"f":750,"v":0.3},{"r":"C","c":2,"f":760,"v":0.2},{"r":"C","c":2,"f":770,"v":0.4},{"r":"C","c":2,"f":780,"v":0.3},{"r":"C","c":2,"f":790,"v":0.5},
{"r":"C","c":2,"f":800,"v":0.3},{"r":"C","c":2,"f":810,"v":0.4},{"r":"C","c":2,"f":820,"v":0.5},{"r":"C","c":2,"f":830,"v":0.3},{"r":"C","c":2,"f":840,"v":0.4},{"r":"C","c":2,"f":850,"v":0.5},{"r":"C","c":2,"f":860,"v":0.3},{"r":"C","c":2,"f":870,"v":0.5},{"r":"C","c":2,"f":880,"v":0.4},{"r":"C","c":2,"f":890,"v":0.5},
{"r":"C","c":2,"f":900,"v":0.6},{"r":"C","c":2,"f":910,"v":0.4},{"r":"C","c":2,"f":920,"v":0.6},{"r":"C","c":2,"f":930,"v":0.3},{"r":"C","c":2,"f":940,"v":0.5},{"r":"C","c":2,"f":950,"v":0.6},{"r":"C","c":2,"f":960,"v":0.3},{"r":"C","c":2,"f":970,"v":0.4},{"r":"C","c":2,"f":980,"v":0.2},{"r":"C","c":2,"f":990,"v":0.4},{"r":"C","c":2,"f":1000,"v":0.3},

{"r":"D","c":2,"f":10,"v":0.5},{"r":"D","c":2,"f":15,"v":0.3},{"r":"D","c":2,"f":21,"v":2.1},{"r":"D","c":2,"f":28,"v":0.5},{"r":"D","c":2,"f":40,"v":0.7},{"r":"D","c":2,"f":50,"v":0.4},{"r":"D","c":2,"f":60,"v":0.8},{"r":"D","c":2,"f":70,"v":0.9},{"r":"D","c":2,"f":80,"v":0.4},{"r":"D","c":2,"f":90,"v":0.6},{"r":"D","c":2,"f":100,"v":0.3},
{"r":"D","c":2,"f":110,"v":0.5},{"r":"D","c":2,"f":120,"v":0.3},{"r":"D","c":2,"f":130,"v":0.4},{"r":"D","c":2,"f":140,"v":0.3},{"r":"D","c":2,"f":150,"v":0.6},{"r":"D","c":2,"f":160,"v":0.4},{"r":"D","c":2,"f":168,"v":0.9},{"r":"D","c":2,"f":174,"v":1.6},{"r":"D","c":2,"f":180,"v":0.6},{"r":"D","c":2,"f":190,"v":0.2},{"r":"D","c":2,"f":200,"v":0.4},
{"r":"D","c":2,"f":210,"v":0.3},{"r":"D","c":2,"f":220,"v":0.7},{"r":"D","c":2,"f":230,"v":0.4},{"r":"D","c":2,"f":240,"v":0.3},{"r":"D","c":2,"f":250,"v":0.4},{"r":"D","c":2,"f":260,"v":0.3},{"r":"D","c":2,"f":270,"v":0.5},{"r":"D","c":2,"f":280,"v":0.4},{"r":"D","c":2,"f":290,"v":0.5},{"r":"D","c":2,"f":300,"v":0.8},
{"r":"D","c":2,"f":310,"v":0.3},{"r":"D","c":2,"f":320,"v":0.2},{"r":"D","c":2,"f":330,"v":0.4},{"r":"D","c":2,"f":340,"v":0.3},{"r":"D","c":2,"f":350,"v":0.5},{"r":"D","c":2,"f":360,"v":0.3},{"r":"D","c":2,"f":370,"v":0.6},{"r":"D","c":2,"f":380,"v":0.4},{"r":"D","c":2,"f":390,"v":0.5},{"r":"D","c":2,"f":400,"v":0.3},
{"r":"D","c":2,"f":410,"v":0.5},{"r":"D","c":2,"f":420,"v":0.4},{"r":"D","c":2,"f":430,"v":0.3},{"r":"D","c":2,"f":440,"v":0.5},{"r":"D","c":2,"f":450,"v":0.4},{"r":"D","c":2,"f":460,"v":0.3},{"r":"D","c":2,"f":470,"v":0.6},{"r":"D","c":2,"f":480,"v":0.4},{"r":"D","c":2,"f":490,"v":0.3},{"r":"D","c":2,"f":500,"v":0.4},
{"r":"D","c":2,"f":510,"v":0.3},{"r":"D","c":2,"f":519,"v":1.1},{"r":"D","c":2,"f":525,"v":0.6},{"r":"D","c":2,"f":530,"v":0.4},{"r":"D","c":2,"f":540,"v":0.5},{"r":"D","c":2,"f":550,"v":0.3},{"r":"D","c":2,"f":560,"v":0.4},{"r":"D","c":2,"f":570,"v":0.3},{"r":"D","c":2,"f":580,"v":0.4},{"r":"D","c":2,"f":590,"v":0.5},
{"r":"D","c":2,"f":600,"v":0.3},{"r":"D","c":2,"f":610,"v":0.4},{"r":"D","c":2,"f":620,"v":0.3},{"r":"D","c":2,"f":630,"v":0.5},{"r":"D","c":2,"f":640,"v":0.3},{"r":"D","c":2,"f":650,"v":0.4},{"r":"D","c":2,"f":660,"v":0.3},{"r":"D","c":2,"f":670,"v":0.4},{"r":"D","c":2,"f":680,"v":0.3},{"r":"D","c":2,"f":695,"v":0.7},
{"r":"D","c":2,"f":705,"v":0.4},{"r":"D","c":2,"f":710,"v":0.3},{"r":"D","c":2,"f":720,"v":0.5},{"r":"D","c":2,"f":730,"v":0.3},{"r":"D","c":2,"f":740,"v":0.4},{"r":"D","c":2,"f":750,"v":0.3},{"r":"D","c":2,"f":760,"v":0.5},{"r":"D","c":2,"f":770,"v":0.3},{"r":"D","c":2,"f":780,"v":0.4},{"r":"D","c":2,"f":790,"v":0.2},
{"r":"D","c":2,"f":800,"v":0.4},{"r":"D","c":2,"f":810,"v":0.2},{"r":"D","c":2,"f":820,"v":0.5},{"r":"D","c":2,"f":830,"v":0.3},{"r":"D","c":2,"f":840,"v":0.6},{"r":"D","c":2,"f":850,"v":0.4},{"r":"D","c":2,"f":860,"v":0.5},{"r":"D","c":2,"f":870,"v":0.3},{"r":"D","c":2,"f":880,"v":0.4},{"r":"D","c":2,"f":890,"v":0.5},
{"r":"D","c":2,"f":900,"v":0.3},{"r":"D","c":2,"f":910,"v":0.4},{"r":"D","c":2,"f":920,"v":0.3},{"r":"D","c":2,"f":930,"v":0.5},{"r":"D","c":2,"f":940,"v":0.6},{"r":"D","c":2,"f":950,"v":0.3},{"r":"D","c":2,"f":960,"v":0.4},{"r":"D","c":2,"f":970,"v":0.3},{"r":"D","c":2,"f":980,"v":0.2},{"r":"D","c":2,"f":990,"v":0.4},{"r":"D","c":2,"f":1000,"v":0.3},

{"r":"E","c":2,"f":10,"v":0.4},{"r":"E","c":2,"f":20,"v":0.8},{"r":"E","c":2,"f":30,"v":0.5},{"r":"E","c":2,"f":40,"v":0.4},{"r":"E","c":2,"f":50,"v":1.0},{"r":"E","c":2,"f":60,"v":0.6},{"r":"E","c":2,"f":70,"v":0.7},{"r":"E","c":2,"f":80,"v":0.4},{"r":"E","c":2,"f":90,"v":0.6},{"r":"E","c":2,"f":100,"v":0.2},
{"r":"E","c":2,"f":110,"v":0.7},{"r":"E","c":2,"f":120,"v":0.5},{"r":"E","c":2,"f":130,"v":0.3},{"r":"E","c":2,"f":140,"v":0.6},{"r":"E","c":2,"f":147,"v":0.95},{"r":"E","c":2,"f":155,"v":0.6},{"r":"E","c":2,"f":160,"v":0.1},{"r":"E","c":2,"f":168,"v":0.8},{"r":"E","c":2,"f":174,"v":1.6},{"r":"E","c":2,"f":180,"v":0.5},{"r":"E","c":2,"f":190,"v":0.2},{"r":"E","c":2,"f":200,"v":0.8},
{"r":"E","c":2,"f":210,"v":0.3},{"r":"E","c":2,"f":222,"v":1.35},{"r":"E","c":2,"f":230,"v":0.5},{"r":"E","c":2,"f":240,"v":0.3},{"r":"E","c":2,"f":250,"v":0.5},{"r":"E","c":2,"f":260,"v":0.3},{"r":"E","c":2,"f":270,"v":0.8},{"r":"E","c":2,"f":280,"v":0.5},{"r":"E","c":2,"f":290,"v":0.6},{"r":"E","c":2,"f":300,"v":0.4},
{"r":"E","c":2,"f":310,"v":0.6},{"r":"E","c":2,"f":320,"v":0.4},{"r":"E","c":2,"f":330,"v":0.5},{"r":"E","c":2,"f":340,"v":0.3},{"r":"E","c":2,"f":350,"v":0.5},{"r":"E","c":2,"f":360,"v":0.4},{"r":"E","c":2,"f":370,"v":0.6},{"r":"E","c":2,"f":380,"v":0.4},{"r":"E","c":2,"f":390,"v":0.7},{"r":"E","c":2,"f":400,"v":0.3},
{"r":"E","c":2,"f":410,"v":0.6},{"r":"E","c":2,"f":420,"v":0.3},{"r":"E","c":2,"f":430,"v":0.5},{"r":"E","c":2,"f":440,"v":0.4},{"r":"E","c":2,"f":450,"v":0.6},{"r":"E","c":2,"f":460,"v":0.3},{"r":"E","c":2,"f":470,"v":0.5},{"r":"E","c":2,"f":480,"v":0.4},{"r":"E","c":2,"f":490,"v":0.6},{"r":"E","c":2,"f":500,"v":0.7},
{"r":"E","c":2,"f":510,"v":0.6},{"r":"E","c":2,"f":521,"v":1.0},{"r":"E","c":2,"f":530,"v":0.5},{"r":"E","c":2,"f":540,"v":0.3},{"r":"E","c":2,"f":550,"v":0.6},{"r":"E","c":2,"f":560,"v":0.2},{"r":"E","c":2,"f":570,"v":0.4},{"r":"E","c":2,"f":580,"v":0.1},{"r":"E","c":2,"f":590,"v":0.3},{"r":"E","c":2,"f":600,"v":0.5},
{"r":"E","c":2,"f":610,"v":0.3},{"r":"E","c":2,"f":620,"v":0.2},{"r":"E","c":2,"f":630,"v":0.4},{"r":"E","c":2,"f":640,"v":0.5},{"r":"E","c":2,"f":650,"v":0.3},{"r":"E","c":2,"f":660,"v":0.4},{"r":"E","c":2,"f":670,"v":0.2},{"r":"E","c":2,"f":680,"v":0.5},{"r":"E","c":2,"f":690,"v":0.3},{"r":"E","c":2,"f":700,"v":0.4},
{"r":"E","c":2,"f":710,"v":0.3},{"r":"E","c":2,"f":720,"v":0.5},{"r":"E","c":2,"f":730,"v":0.4},{"r":"E","c":2,"f":740,"v":0.3},{"r":"E","c":2,"f":749,"v":0.85},{"r":"E","c":2,"f":760,"v":0.4},{"r":"E","c":2,"f":770,"v":0.5},{"r":"E","c":2,"f":780,"v":0.3},{"r":"E","c":2,"f":790,"v":0.6},{"r":"E","c":2,"f":800,"v":0.4},
{"r":"E","c":2,"f":810,"v":0.7},{"r":"E","c":2,"f":820,"v":0.3},{"r":"E","c":2,"f":830,"v":0.6},{"r":"E","c":2,"f":840,"v":0.5},{"r":"E","c":2,"f":850,"v":0.1},{"r":"E","c":2,"f":860,"v":0.6},{"r":"E","c":2,"f":874,"v":1.1},{"r":"E","c":2,"f":880,"v":0.5},{"r":"E","c":2,"f":893,"v":0.9},{"r":"E","c":2,"f":900,"v":0.4},
{"r":"E","c":2,"f":910,"v":0.7},{"r":"E","c":2,"f":920,"v":0.5},{"r":"E","c":2,"f":930,"v":0.4},{"r":"E","c":2,"f":940,"v":0.5},{"r":"E","c":2,"f":950,"v":0.3},{"r":"E","c":2,"f":960,"v":0.5},{"r":"E","c":2,"f":970,"v":0.4},{"r":"E","c":2,"f":980,"v":0.6},{"r":"E","c":2,"f":990,"v":0.3},{"r":"E","c":2,"f":1000,"v":0.7},

{"r":"F","c":2,"f":10,"v":0.8},{"r":"F","c":2,"f":20,"v":0.5},{"r":"F","c":2,"f":30,"v":0.7},{"r":"F","c":2,"f":40,"v":0.4},{"r":"F","c":2,"f":50,"v":0.8},{"r":"F","c":2,"f":60,"v":0.4},{"r":"F","c":2,"f":70,"v":0.3},{"r":"F","c":2,"f":80,"v":0.35},{"r":"F","c":2,"f":90,"v":0.5},{"r":"F","c":2,"f":100,"v":0.55},
{"r":"F","c":2,"f":110,"v":0.6},{"r":"F","c":2,"f":118,"v":1.0},{"r":"F","c":2,"f":125,"v":0.6},{"r":"F","c":2,"f":130,"v":0.4},{"r":"F","c":2,"f":140,"v":0.6},{"r":"F","c":2,"f":150,"v":0.35},{"r":"F","c":2,"f":160,"v":0.5},{"r":"F","c":2,"f":165,"v":0.9},{"r":"F","c":2,"f":171,"v":3.1},{"r":"F","c":2,"f":176,"v":1.2},{"r":"F","c":2,"f":180,"v":0.6},{"r":"F","c":2,"f":190,"v":0.8},{"r":"F","c":2,"f":200,"v":0.2},
{"r":"F","c":2,"f":210,"v":0.5},{"r":"F","c":2,"f":220,"v":0.9},{"r":"F","c":2,"f":230,"v":0.3},{"r":"F","c":2,"f":240,"v":0.6},{"r":"F","c":2,"f":250,"v":0.4},{"r":"F","c":2,"f":260,"v":0.5},{"r":"F","c":2,"f":270,"v":0.3},{"r":"F","c":2,"f":280,"v":0.6},{"r":"F","c":2,"f":290,"v":0.2},{"r":"F","c":2,"f":300,"v":0.5},
{"r":"F","c":2,"f":310,"v":0.4},{"r":"F","c":2,"f":320,"v":0.7},{"r":"F","c":2,"f":330,"v":0.5},{"r":"F","c":2,"f":340,"v":1.0},{"r":"F","c":2,"f":349,"v":2.6},{"r":"F","c":2,"f":355,"v":1.5},{"r":"F","c":2,"f":360,"v":0.6},{"r":"F","c":2,"f":370,"v":0.3},{"r":"F","c":2,"f":380,"v":0.5},{"r":"F","c":2,"f":390,"v":0.2},{"r":"F","c":2,"f":400,"v":0.5},
{"r":"F","c":2,"f":410,"v":0.3},{"r":"F","c":2,"f":420,"v":0.8},{"r":"F","c":2,"f":430,"v":0.4},{"r":"F","c":2,"f":440,"v":0.5},{"r":"F","c":2,"f":450,"v":0.3},{"r":"F","c":2,"f":460,"v":0.6},{"r":"F","c":2,"f":470,"v":0.4},{"r":"F","c":2,"f":480,"v":0.8},{"r":"F","c":2,"f":490,"v":0.3},{"r":"F","c":2,"f":500,"v":0.5},
{"r":"F","c":2,"f":510,"v":0.8},{"r":"F","c":2,"f":519,"v":1.9},{"r":"F","c":2,"f":525,"v":0.7},{"r":"F","c":2,"f":530,"v":0.2},{"r":"F","c":2,"f":540,"v":0.6},{"r":"F","c":2,"f":550,"v":0.3},{"r":"F","c":2,"f":560,"v":0.7},{"r":"F","c":2,"f":570,"v":0.2},{"r":"F","c":2,"f":580,"v":0.5},{"r":"F","c":2,"f":590,"v":0.3},{"r":"F","c":2,"f":600,"v":0.8},
{"r":"F","c":2,"f":610,"v":0.3},{"r":"F","c":2,"f":620,"v":0.6},{"r":"F","c":2,"f":630,"v":0.2},{"r":"F","c":2,"f":640,"v":0.9},{"r":"F","c":2,"f":650,"v":0.3},{"r":"F","c":2,"f":660,"v":0.6},{"r":"F","c":2,"f":670,"v":0.4},{"r":"F","c":2,"f":680,"v":0.5},{"r":"F","c":2,"f":690,"v":0.2},{"r":"F","c":2,"f":695,"v":3.3},{"r":"F","c":2,"f":700,"v":0.2},
{"r":"F","c":2,"f":710,"v":0.6},{"r":"F","c":2,"f":720,"v":0.3},{"r":"F","c":2,"f":730,"v":0.8},{"r":"F","c":2,"f":740,"v":0.4},{"r":"F","c":2,"f":750,"v":0.6},{"r":"F","c":2,"f":760,"v":0.3},{"r":"F","c":2,"f":770,"v":1.4},{"r":"F","c":2,"f":775,"v":0.4},{"r":"F","c":2,"f":780,"v":0.3},{"r":"F","c":2,"f":790,"v":0.5},{"r":"F","c":2,"f":800,"v":0.3},
{"r":"F","c":2,"f":810,"v":0.5},{"r":"F","c":2,"f":820,"v":0.4},{"r":"F","c":2,"f":830,"v":0.6},{"r":"F","c":2,"f":840,"v":0.3},{"r":"F","c":2,"f":850,"v":0.8},{"r":"F","c":2,"f":860,"v":1.0},{"r":"F","c":2,"f":865,"v":0.6},{"r":"F","c":2,"f":872,"v":1.75},{"r":"F","c":2,"f":880,"v":0.5},{"r":"F","c":2,"f":890,"v":0.8},{"r":"F","c":2,"f":900,"v":0.3},
{"r":"F","c":2,"f":910,"v":0.7},{"r":"F","c":2,"f":920,"v":0.4},{"r":"F","c":2,"f":930,"v":0.5},{"r":"F","c":2,"f":940,"v":0.3},{"r":"F","c":2,"f":950,"v":0.6},{"r":"F","c":2,"f":960,"v":0.5},{"r":"F","c":2,"f":970,"v":0.7},{"r":"F","c":2,"f":980,"v":0.4},{"r":"F","c":2,"f":990,"v":0.3},{"r":"F","c":2,"f":1000,"v":0.5},

{"r":"A","c":1,"f":8,"v":1,"k":"lab","t":"x 10","e":"-4"},
{"r":"B","c":1,"f":8,"v":1,"k":"lab","t":"x 10","e":"-4"},
{"r":"C","c":1,"f":8,"v":1,"k":"lab","t":"x 10","e":"-4"},
{"r":"D","c":1,"f":8,"v":1,"k":"lab","t":"x 10","e":"-4"},
{"r":"E","c":1,"f":8,"v":1,"k":"lab","t":"x 10","e":"-4"},
{"r":"F","c":1,"f":8,"v":1,"k":"lab","t":"x 10","e":"-3"},
{"r":"A","c":2,"f":8,"v":4,"k":"lab","t":"x 10","e":"-5"},
{"r":"B","c":2,"f":8,"v":2,"k":"lab","t":"x 10","e":"-5"},
{"r":"C","c":2,"f":8,"v":4,"k":"lab","t":"x 10","e":"-5"},
{"r":"D","c":2,"f":8,"v":4,"k":"lab","t":"x 10","e":"-5"},
{"r":"E","c":2,"f":8,"v":2,"k":"lab","t":"x 10","e":"-5"},
{"r":"F","c":2,"f":8,"v":4,"k":"lab","t":"x 10","e":"-5"},

{"r":"F","c":1,"f":182,"v":0.53,"f2":243,"v2":0.81,"k":"arr"},
{"r":"F","c":1,"f":356,"v":0.37,"f2":417,"v2":0.67,"k":"arr"},
{"r":"F","c":1,"f":537,"v":0.35,"f2":599,"v2":0.6,"k":"arr"},
{"r":"F","c":1,"f":708,"v":0.3,"f2":770,"v2":0.6,"k":"arr"},
{"r":"F","c":1,"f":879,"v":0.3,"f2":944,"v2":0.58,"k":"arr"},
{"r":"F","c":2,"f":180,"v":2.58,"f2":242,"v2":3.75,"k":"arr"},
{"r":"F","c":2,"f":358,"v":2.3,"f2":423,"v2":3.6,"k":"arr"},
{"r":"F","c":2,"f":523,"v":1.43,"f2":588,"v2":2.67,"k":"arr"},
{"r":"F","c":2,"f":700,"v":2.92,"f2":748,"v2":4.0,"k":"arr"},
{"r":"F","c":2,"f":880,"v":1.43,"f2":943,"v2":2.67,"k":"arr"}
]},
"facet":{
 "row":{"field":"r","type":"nominal","title":null,"header":{"labelAngle":-90,"labelOrient":"left","labelFont":"Liberation Sans","labelFontSize":14,"labelFontWeight":"bold","labelColor":"#000","labelPadding":25}},
 "column":{"field":"c","type":"ordinal","title":null,"header":{"labelExpr":"'Test ' + datum.value","labelFont":"Liberation Sans","labelFontSize":14,"labelFontWeight":"bold","labelColor":"#000","labelPadding":10}}
},
"spacing":{"row":41.5,"column":117},
"bounds":"flush",
"resolve":{"scale":{"y":"independent"},"axis":{"x":"independent","y":"independent"}},
"spec":{
 "width":371,"height":42,
 "resolve":{"axis":{"x":"independent","y":"independent"}},
 "layer":[
  {"transform":[{"filter":"!datum.k"}],
   "mark":{"type":"line","color":"#1414d8","strokeWidth":0.9,"clip":true},
   "encoding":{
    "x":{"field":"f","type":"quantitative","scale":{"domain":[8,1000],"nice":false,"zero":false},"axis":{"orient":"bottom","values":[200,400,600,800,1000],"format":"d","title":null,"domain":false,"grid":false,"tickSize":-4,"labelPadding":6}},
    "y":{"field":"v","type":"quantitative","scale":{"zero":true,"nice":false},"axis":{"orient":"left","tickCount":2,"format":"~g","title":null,"domain":false,"grid":false,"tickSize":-4,"labelPadding":6}}
   }},
  {"transform":[{"filter":"datum.k=='lab'"}],
   "mark":{"type":"point","opacity":0},
   "encoding":{
    "x":{"field":"f","type":"quantitative","axis":{"orient":"top","values":[200,400,600,800,1000],"labels":false,"title":null,"domain":false,"grid":false,"tickSize":-4}},
    "y":{"field":"v","type":"quantitative","axis":{"orient":"right","tickCount":2,"labels":false,"title":null,"domain":false,"grid":false,"tickSize":-4}}
   }},
  {"transform":[{"filter":"datum.k=='lab'"}],
   "mark":{"type":"text","align":"left","baseline":"alphabetic","dy":-6,"font":"Liberation Sans","fontSize":13,"color":"#000"},
   "encoding":{
    "x":{"field":"f","type":"quantitative","axis":null},
    "y":{"field":"v","type":"quantitative","axis":null},
    "text":{"field":"t"}
   }},
  {"transform":[{"filter":"datum.k=='lab'"}],
   "mark":{"type":"text","align":"left","baseline":"alphabetic","dx":27,"dy":-13,"font":"Liberation Sans","fontSize":9,"color":"#000"},
   "encoding":{
    "x":{"field":"f","type":"quantitative","axis":null},
    "y":{"field":"v","type":"quantitative","axis":null},
    "text":{"field":"e"}
   }},
  {"transform":[{"filter":"datum.k=='arr'"}],
   "mark":{"type":"rule","color":"#000","strokeWidth":2.5,"clip":false},
   "encoding":{
    "x":{"field":"f","type":"quantitative","axis":null},
    "y":{"field":"v","type":"quantitative","axis":null},
    "x2":{"field":"f2"},
    "y2":{"field":"v2"}
   }},
  {"transform":[{"filter":"datum.k=='arr'"}],
   "mark":{"type":"point","shape":"M0,0L2,-0.8L2,0.8Z","filled":true,"color":"#000","opacity":1,"size":100,"angle":-28},
   "encoding":{
    "x":{"field":"f","type":"quantitative","axis":null},
    "y":{"field":"v","type":"quantitative","axis":null}
   }}
 ]
},
"title":{"text":"Frequency (Hz)","orient":"bottom","anchor":"middle","font":"Liberation Sans","fontSize":15,"fontWeight":"bold","color":"#000","offset":10,"dx":20},
"config":{
 "view":{"stroke":"#333","strokeWidth":1},
 "axis":{"labelFont":"Liberation Sans","labelFontSize":13,"labelFontWeight":"bold","labelColor":"#000","tickColor":"#333"}
}
}
